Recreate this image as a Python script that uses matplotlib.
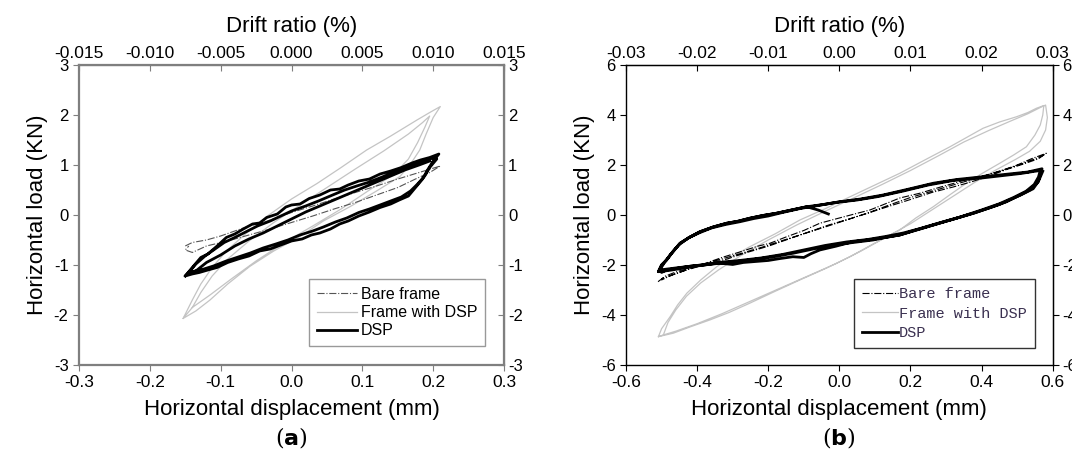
import matplotlib
matplotlib.use('agg')
import matplotlib.pyplot as plt
import matplotlib.ticker as mticker

# ---- panel (a): displacement (mm), load (kN) ----
a_frame_dsp = [(-0.153, -2.07), (-0.140, -1.70), (-0.128, -1.38), (-0.112, -1.05), (-0.092, -0.72),
               (-0.065, -0.38), (-0.035, -0.03), (0.000, 0.32), (0.036, 0.63), (0.070, 0.95),
               (0.106, 1.30), (0.140, 1.58), (0.177, 1.90), (0.195, 2.05), (0.210, 2.17),
               (0.200, 1.95), (0.190, 1.62), (0.181, 1.30), (0.168, 1.02), (0.153, 0.77),
               (0.120, 0.48), (0.083, 0.17), (0.045, -0.12), (0.012, -0.43), (-0.025, -0.72),
               (-0.059, -1.03), (-0.090, -1.38), (-0.115, -1.70), (-0.135, -1.92), (-0.153, -2.07),
               (-0.140, -1.85), (-0.128, -1.55), (-0.112, -1.22), (-0.090, -0.88), (-0.060, -0.52),
               (-0.025, -0.15), (0.010, 0.18), (0.050, 0.55), (0.090, 0.92), (0.130, 1.28),
               (0.165, 1.62), (0.185, 1.85), (0.195, 1.98), (0.188, 1.75), (0.178, 1.45),
               (0.165, 1.12), (0.145, 0.82), (0.110, 0.50), (0.070, 0.12), (0.030, -0.22),
               (-0.010, -0.55), (-0.050, -0.92), (-0.085, -1.28), (-0.115, -1.60), (-0.140, -1.85)]

a_bare = [(-0.150, -0.62), (-0.140, -0.55), (-0.120, -0.50), (-0.100, -0.42), (-0.080, -0.32),
          (-0.060, -0.22), (-0.040, -0.15), (-0.020, -0.05), (0.000, 0.05), (0.030, 0.18),
          (0.060, 0.32), (0.090, 0.45), (0.120, 0.58), (0.150, 0.72), (0.180, 0.85),
          (0.210, 0.98), (0.195, 0.85), (0.175, 0.72), (0.150, 0.55), (0.120, 0.40),
          (0.090, 0.25), (0.060, 0.12), (0.030, -0.02), (0.000, -0.15), (-0.030, -0.28),
          (-0.060, -0.40), (-0.090, -0.52), (-0.120, -0.62), (-0.140, -0.75), (-0.150, -0.70),
          (-0.145, -0.62)]

a_dsp = [(-0.150, -1.22), (-0.140, -1.05), (-0.128, -0.85), (-0.118, -0.78), (-0.105, -0.62),
         (-0.092, -0.45), (-0.080, -0.38), (-0.068, -0.28), (-0.055, -0.18), (-0.045, -0.16),
         (-0.035, -0.05), (-0.020, 0.02), (-0.008, 0.16), (0.000, 0.20), (0.012, 0.22),
         (0.025, 0.33), (0.040, 0.40), (0.055, 0.50), (0.068, 0.52), (0.080, 0.60),
         (0.095, 0.68), (0.110, 0.72), (0.125, 0.82), (0.140, 0.88), (0.155, 0.95),
         (0.170, 1.04), (0.182, 1.10), (0.195, 1.15), (0.208, 1.22),
         (0.200, 1.08), (0.192, 0.90), (0.185, 0.72), (0.175, 0.55), (0.165, 0.38),
         (0.152, 0.30), (0.140, 0.22), (0.125, 0.15), (0.110, 0.06), (0.095, -0.02),
         (0.080, -0.12), (0.068, -0.18), (0.055, -0.28), (0.040, -0.36), (0.028, -0.40),
         (0.015, -0.48), (0.000, -0.52), (-0.015, -0.60), (-0.030, -0.68), (-0.045, -0.72),
         (-0.060, -0.82), (-0.075, -0.88), (-0.090, -0.95), (-0.105, -1.05), (-0.118, -1.10),
         (-0.130, -1.15), (-0.140, -1.18), (-0.150, -1.22),
         (-0.145, -1.15), (-0.135, -0.98), (-0.122, -0.82), (-0.110, -0.70), (-0.095, -0.55),
         (-0.080, -0.45), (-0.062, -0.32), (-0.048, -0.22), (-0.030, -0.12), (-0.015, -0.02),
         (0.000, 0.08), (0.020, 0.18), (0.038, 0.28), (0.058, 0.40), (0.075, 0.50),
         (0.092, 0.58), (0.110, 0.66), (0.128, 0.76), (0.148, 0.88), (0.165, 0.98),
         (0.185, 1.08), (0.200, 1.14), (0.205, 1.12),
         (0.195, 0.95), (0.188, 0.78), (0.178, 0.62), (0.168, 0.48), (0.155, 0.36),
         (0.140, 0.28), (0.125, 0.20), (0.110, 0.12), (0.095, 0.05), (0.078, -0.06),
         (0.062, -0.14), (0.045, -0.24), (0.030, -0.32), (0.012, -0.40), (-0.005, -0.50),
         (-0.022, -0.58), (-0.040, -0.66), (-0.058, -0.76), (-0.075, -0.84), (-0.092, -0.92),
         (-0.110, -1.02), (-0.128, -1.10), (-0.145, -1.15),
         (-0.135, -1.12), (-0.120, -0.95), (-0.100, -0.80), (-0.080, -0.62), (-0.060, -0.48),
         (-0.040, -0.36), (-0.020, -0.22), (0.000, -0.08), (0.020, 0.06), (0.040, 0.18),
         (0.060, 0.30), (0.080, 0.42), (0.100, 0.54), (0.120, 0.66), (0.140, 0.78),
         (0.160, 0.90), (0.180, 1.00), (0.195, 1.08)]

# ---- panel (b) ----
b_frame_dsp = [(-0.509, -4.87), (-0.500, -4.55), (-0.476, -4.07), (-0.455, -3.60), (-0.429, -3.13),
               (-0.390, -2.60), (-0.345, -2.07), (-0.300, -1.65), (-0.252, -1.27), (-0.180, -0.75),
               (-0.111, -0.20), (-0.040, 0.25), (0.030, 0.73), (0.100, 1.20), (0.170, 1.67),
               (0.240, 2.20), (0.311, 2.73), (0.360, 3.12), (0.404, 3.47), (0.450, 3.72),
               (0.498, 3.93), (0.530, 4.10), (0.554, 4.27), (0.575, 4.38),
               (0.572, 4.00), (0.565, 3.60), (0.550, 3.20), (0.526, 2.73), (0.490, 2.40),
               (0.451, 2.07), (0.400, 1.65), (0.357, 1.27), (0.310, 0.80), (0.264, 0.33),
               (0.215, -0.12), (0.170, -0.60), (0.100, -1.12), (0.030, -1.67), (-0.040, -2.15),
               (-0.111, -2.60), (-0.180, -3.05), (-0.252, -3.53), (-0.310, -3.90), (-0.364, -4.20),
               (-0.420, -4.48), (-0.467, -4.73), (-0.509, -4.87),
               (-0.495, -4.80), (-0.482, -4.30), (-0.460, -3.80), (-0.430, -3.25), (-0.390, -2.72),
               (-0.340, -2.20), (-0.280, -1.65), (-0.200, -1.00), (-0.120, -0.40), (-0.040, 0.15),
               (0.040, 0.68), (0.120, 1.22), (0.200, 1.78), (0.280, 2.38), (0.350, 2.92),
               (0.420, 3.38), (0.480, 3.75), (0.530, 4.05), (0.565, 4.30), (0.580, 4.40),
               (0.585, 3.90), (0.580, 3.40), (0.565, 2.95), (0.535, 2.55), (0.495, 2.22),
               (0.440, 1.80), (0.380, 1.30), (0.320, 0.75), (0.260, 0.20), (0.200, -0.35),
               (0.130, -0.90), (0.060, -1.45), (-0.010, -1.95), (-0.090, -2.45), (-0.170, -2.95),
               (-0.250, -3.45), (-0.330, -3.95), (-0.400, -4.35), (-0.460, -4.65), (-0.495, -4.80)]

b_bare = [(-0.510, -2.67), (-0.490, -2.45), (-0.460, -2.28), (-0.420, -2.12), (-0.380, -1.95),
          (-0.330, -1.70), (-0.280, -1.48), (-0.230, -1.25), (-0.195, -1.13), (-0.150, -0.88),
          (-0.100, -0.62), (-0.055, -0.33), (0.000, -0.12), (0.040, 0.03), (0.086, 0.20),
          (0.130, 0.45), (0.170, 0.68), (0.226, 0.87), (0.280, 1.10), (0.330, 1.30),
          (0.370, 1.48), (0.414, 1.60), (0.460, 1.80), (0.500, 2.00), (0.540, 2.25),
          (0.582, 2.47),
          (0.560, 2.25), (0.520, 2.05), (0.470, 1.82), (0.420, 1.55), (0.370, 1.32),
          (0.320, 1.12), (0.260, 0.90), (0.200, 0.62), (0.140, 0.35), (0.086, 0.10),
          (0.030, -0.15), (-0.030, -0.40), (-0.090, -0.70), (-0.140, -0.95), (-0.200, -1.25),
          (-0.260, -1.50), (-0.320, -1.78), (-0.380, -2.00), (-0.430, -2.20), (-0.470, -2.40),
          (-0.500, -2.60),
          (-0.500, -2.55), (-0.450, -2.30), (-0.400, -2.05), (-0.340, -1.80), (-0.280, -1.55),
          (-0.220, -1.30), (-0.160, -1.02), (-0.100, -0.75), (-0.040, -0.48), (0.020, -0.20),
          (0.080, 0.08), (0.140, 0.40), (0.200, 0.70), (0.260, 0.95), (0.320, 1.20),
          (0.380, 1.45), (0.440, 1.70), (0.500, 1.98), (0.560, 2.30), (0.575, 2.40)]

b_dsp = [(-0.031, 0.04), (-0.060, 0.20), (-0.092, 0.33), (-0.135, 0.20), (-0.177, 0.07),
         (-0.215, -0.02), (-0.252, -0.13), (-0.285, -0.25), (-0.317, -0.33), (-0.355, -0.48),
         (-0.392, -0.67), (-0.420, -0.88), (-0.448, -1.13), (-0.470, -1.50), (-0.486, -1.80),
         (-0.500, -2.00), (-0.509, -2.27),
         (-0.500, -2.00), (-0.486, -1.80), (-0.470, -1.50), (-0.448, -1.13), (-0.420, -0.88),
         (-0.392, -0.67), (-0.355, -0.48), (-0.317, -0.33), (-0.285, -0.25), (-0.252, -0.13),
         (-0.215, -0.02), (-0.177, 0.07), (-0.135, 0.20), (-0.092, 0.33), (-0.045, 0.42),
         (0.001, 0.53), (0.060, 0.64), (0.123, 0.80), (0.190, 1.02), (0.264, 1.27),
         (0.330, 1.42), (0.404, 1.53), (0.450, 1.60), (0.498, 1.67), (0.530, 1.72),
         (0.554, 1.80), (0.570, 1.85),
         (0.565, 1.60), (0.559, 1.33), (0.535, 1.00), (0.505, 0.78), (0.470, 0.53),
         (0.425, 0.30), (0.376, 0.07), (0.320, -0.17), (0.264, -0.40), (0.215, -0.60),
         (0.170, -0.80), (0.130, -0.90), (0.095, -1.00), (0.040, -1.10), (-0.017, -1.20),
         (-0.070, -1.35), (-0.130, -1.53), (-0.190, -1.68), (-0.252, -1.80), (-0.300, -1.88),
         (-0.345, -1.93), (-0.390, -2.02), (-0.439, -2.13), (-0.480, -2.22), (-0.509, -2.27),
         (-0.505, -2.20), (-0.492, -1.90), (-0.475, -1.58), (-0.452, -1.20), (-0.425, -0.92),
         (-0.395, -0.72), (-0.360, -0.52), (-0.320, -0.38), (-0.280, -0.27), (-0.240, -0.14),
         (-0.200, -0.04), (-0.160, 0.10), (-0.110, 0.26), (-0.060, 0.38), (-0.010, 0.50),
         (0.050, 0.60), (0.110, 0.74), (0.180, 0.96), (0.250, 1.20), (0.320, 1.38),
         (0.400, 1.48), (0.460, 1.58), (0.510, 1.66), (0.545, 1.74), (0.565, 1.78),
         (0.560, 1.52), (0.548, 1.22), (0.525, 0.95), (0.490, 0.70), (0.450, 0.45),
         (0.400, 0.20), (0.340, -0.08), (0.280, -0.32), (0.225, -0.55), (0.180, -0.72),
         (0.130, -0.86), (0.080, -0.98), (0.020, -1.08), (-0.040, -1.22), (-0.100, -1.40),
         (-0.160, -1.58), (-0.220, -1.72), (-0.280, -1.82), (-0.340, -1.90), (-0.400, -2.02),
         (-0.460, -2.12), (-0.505, -2.20),
         (-0.500, -2.30), (-0.486, -2.20), (-0.420, -2.05), (-0.380, -2.00), (-0.336, -1.93),
         (-0.300, -1.98), (-0.270, -1.90), (-0.243, -1.87), (-0.200, -1.82), (-0.170, -1.75),
         (-0.131, -1.67), (-0.100, -1.70), (-0.080, -1.55), (-0.055, -1.40), (-0.010, -1.25),
         (0.038, -1.07), (0.080, -1.00), (0.114, -0.93), (0.170, -0.80), (0.230, -0.55),
         (0.300, -0.25), (0.380, 0.08), (0.450, 0.42), (0.510, 0.80), (0.545, 1.05),
         (0.560, 1.35), (0.572, 1.75)]

a_xticks = [-0.3, -0.2, -0.1, 0.0, 0.1, 0.2, 0.3]
a_yticks = [-3, -2, -1, 0, 1, 2, 3]
a_drift = [-0.015, -0.010, -0.005, 0.000, 0.005, 0.010, 0.015]
b_xticks = [-0.6, -0.4, -0.2, 0.0, 0.2, 0.4, 0.6]
b_yticks = [-6, -4, -2, 0, 2, 4, 6]
b_drift = [-0.03, -0.02, -0.01, 0.00, 0.01, 0.02, 0.03]

plt.rcParams['font.family'] = ['Liberation Sans', 'DejaVu Sans']
plt.rcParams['axes.unicode_minus'] = False


def xy(pts):
    return [p[0] for p in pts], [p[1] for p in pts]


fig = plt.figure(figsize=(10.72, 4.55), dpi=100)
ax_a = fig.add_axes([0.0737, 0.198, 0.3965, 0.659])
ax_b = fig.add_axes([0.584, 0.198, 0.398, 0.659])

panels = [
    (ax_a, a_frame_dsp, a_bare, a_dsp, a_xticks, a_yticks, a_drift, '%.3f', '#7f7f7f', '#555555', 'a'),
    (ax_b, b_frame_dsp, b_bare, b_dsp, b_xticks, b_yticks, b_drift, '%.2f', 'black', 'black', 'b'),
]

for ax, fr, bare, dsp, xt, yt, drift, fmt, spc, barec, tag in panels:
    ax.plot(*xy(fr), color='#c4c4c4', lw=0.9, label='Frame with DSP', zorder=2)
    ax.plot(*xy(bare), color=barec, lw=0.8, ls='-.', label='Bare frame', zorder=3)
    ax.plot(*xy(dsp), color='black', lw=2.0, label='DSP', zorder=4)

    ax.set_xlim(xt[0], xt[-1])
    ax.set_ylim(yt[0], yt[-1])
    ax.set_xticks(xt)
    ax.set_yticks(yt)
    ax.xaxis.set_major_formatter(mticker.FormatStrFormatter('%.1f'))
    for s in ax.spines.values():
        s.set_color(spc)
        s.set_linewidth(1.6 if tag == 'a' else 1.0)
    ax.tick_params(axis='both', direction='out', length=4, color=spc, labelsize=12)
    ax.tick_params(axis='x', labelsize=12.5)
    ax.set_xlabel('Horizontal displacement (mm)', fontsize=16, labelpad=6)
    ax.set_ylabel('Horizontal load (KN)', fontsize=16, labelpad=4)

    top = ax.secondary_xaxis('top', functions=(lambda x: x / 20, lambda x: x * 20))
    top.set_xticks(drift)
    top.xaxis.set_major_formatter(mticker.FormatStrFormatter(fmt))
    top.tick_params(direction='in', length=4, color=spc, labelsize=12.5, pad=3)
    top.set_xlabel('Drift ratio (%)', fontsize=16, labelpad=10)

    right = ax.secondary_yaxis('right')
    right.set_yticks(yt)
    right.tick_params(direction='in' if tag == 'a' else 'out', length=4, color=spc,
                      labelsize=12, pad=3)

    handles, labels = ax.get_legend_handles_labels()
    order = [1, 0, 2]
    if tag == 'a':
        leg = ax.legend([handles[i] for i in order], [labels[i] for i in order],
                        loc='lower right', bbox_to_anchor=(0.975, 0.035), fontsize=11.5,
                        frameon=True, fancybox=False, edgecolor='#808080',
                        handlelength=2.5, handletextpad=0.25, borderpad=0.5, labelspacing=0.2)
    else:
        leg = ax.legend([handles[i] for i in order], [labels[i] for i in order],
                        loc='lower right', bbox_to_anchor=(0.977, 0.03),
                        prop={'family': ['Liberation Mono'], 'size': 11},
                        frameon=True, fancybox=False, edgecolor='black',
                        handlelength=2.3, handletextpad=0.1, borderpad=0.55, labelspacing=0.35)
        for t in leg.get_texts():
            t.set_color('#3a3050')
    leg.get_frame().set_linewidth(1.0)

fig.text(291 / 1072, 1 - 437 / 455, r'($\mathbf{a}$)', ha='center', va='center',
         fontsize=16, family='DejaVu Serif')
fig.text(839 / 1072, 1 - 437 / 455, r'($\mathbf{b}$)', ha='center', va='center',
         fontsize=16, family='DejaVu Serif')

fig.savefig('out.png', dpi=100)
